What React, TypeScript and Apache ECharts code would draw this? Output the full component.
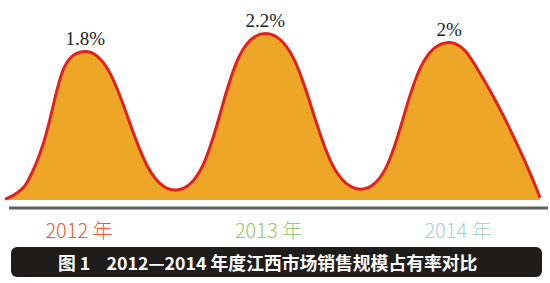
import React, { useEffect, useRef } from "react";
import * as echarts from "echarts";

// Categories (years) and market share values (%)
const years = ["2012 年", "2013 年", "2014 年"];
const yearColors = ["#E85A30", "#9CBF70", "#A8D0CC"];
const shares = [1.8, 2.2, 2.0];

// Curve shape (x position on a 0..6 scale, level on the value axis)
const peakX = [0.9, 2.92, 4.98];
const troughX = [1.91, 3.99];
const troughY = [-1.28, -1.26];
const startPoint = [0, -1.48];
const footPoint = [0.25, -1.1];
const shoulderPoint = [5.37, 1.17];
const endPoint = [6, -1.45];

const title = "图 1    2012—2014 年度江西市场销售规模占有率对比";

export default function App() {
  const ref = useRef<HTMLDivElement>(null);

  useEffect(() => {
    if (!ref.current) return;
    const chart = echarts.init(ref.current, null, { renderer: "svg" });

    const peak = (i: number) => ({
      value: [peakX[i], shares[i]],
      label: { show: true },
    });
    const data: any[] = [
      { value: startPoint },
      { value: footPoint },
      peak(0),
      { value: [troughX[0], troughY[0]] },
      peak(1),
      { value: [troughX[1], troughY[1]] },
      peak(2),
      { value: shoulderPoint },
      { value: endPoint },
    ];

    chart.setOption({
      animation: false,
      grid: [
        { left: 5, width: 535, top: 2, height: 198 },
        { left: 79, width: 379, top: 0, height: 208 },
      ],
      xAxis: [
        {
          type: "value",
          gridIndex: 0,
          min: 0,
          max: 6,
          show: false,
        },
        {
          type: "category",
          gridIndex: 1,
          data: years,
          boundaryGap: false,
          axisLine: { show: false },
          axisTick: { show: false },
          splitLine: { show: false },
          axisLabel: {
            margin: 11,
            fontSize: 20,
            interval: 0,
            fontFamily: "'Noto Sans CJK SC', sans-serif",
            fontWeight: 300,
            color: (_v: any, i: number) => yearColors[i],
          },
        },
      ],
      yAxis: [
        { type: "value", gridIndex: 0, min: -1.5, max: 2.9, show: false },
        { type: "value", gridIndex: 1, show: false },
      ],
      series: [
        {
          type: "line",
          xAxisIndex: 0,
          yAxisIndex: 0,
          data,
          smooth: 0.5,
          symbol: "circle",
          symbolSize: 1,
          showSymbol: true,
          itemStyle: { color: "transparent" },
          lineStyle: { color: "#E3201C", width: 3 },
          areaStyle: { color: "#EDA626", origin: "start", opacity: 1 },
          label: {
            show: false,
            position: "top",
            distance: 3,
            formatter: (p: any) => `${p.value[1]}%`,
            fontFamily: "'Liberation Serif', 'Times New Roman', serif",
            fontSize: 19,
            color: "#222",
          },
        },
      ],
      graphic: [
        {
          type: "line",
          shape: { x1: 9, y1: 208, x2: 548, y2: 208 },
          style: { stroke: "#5f5f5f", lineWidth: 3 },
        },
        {
          type: "rect",
          shape: { x: 11, y: 247, width: 531, height: 30, r: 6 },
          style: { fill: "#1f1c1c" },
        },
        {
          type: "text",
          x: 58,
          y: 262,
          style: {
            text: title,
            fill: "#ffffff",
            font: "bold 17.8px 'Noto Sans CJK SC', sans-serif",
            verticalAlign: "middle",
            textAlign: "left",
          },
        },
      ],
    });

    return () => chart.dispose();
  }, []);

  return (
    <div
      ref={ref}
      style={{ position: "fixed", left: 0, top: 0, width: 550, height: 283, background: "#fff" }}
    />
  );
}
